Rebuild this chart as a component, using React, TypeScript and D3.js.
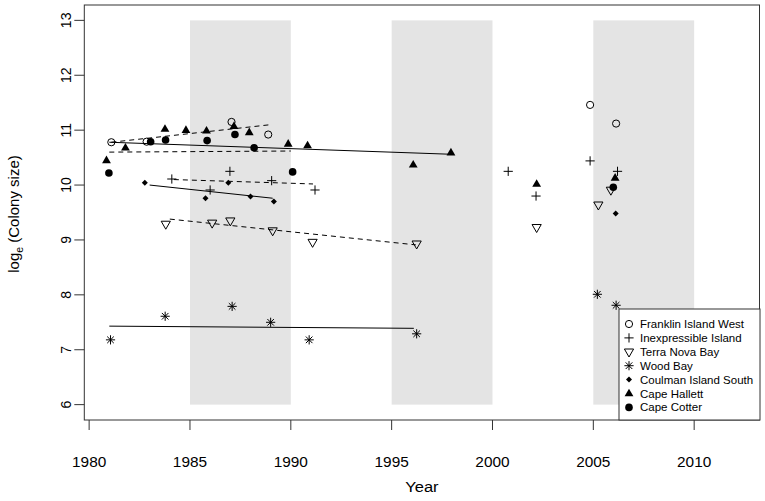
import React from "react";
import * as d3 from "d3";

// ---------- data ----------
const seriesNames = [
  "Franklin Island West",
  "Inexpressible Island",
  "Terra Nova Bay",
  "Wood Bay",
  "Coulman Island South",
  "Cape Hallett",
  "Cape Cotter",
];
const seriesSymbols = ["circleOpen", "plus", "triDown", "asterisk", "diamond", "triUp", "circle"];

const franklinYears = [1981.1, 1982.85, 1987.06, 1988.88, 2004.84, 2006.13];
const franklinVals = [10.78, 10.79, 11.15, 10.92, 11.46, 11.12];

const inexYears = [1984.1, 1986.0, 1986.98, 1989.05, 1991.2, 2000.78, 2002.16, 2004.84, 2006.2];
const inexVals = [10.11, 9.91, 10.25, 10.08, 9.91, 10.25, 9.8, 10.44, 10.25];

const terraYears = [1983.8, 1986.1, 1987.0, 1989.1, 1991.08, 1996.24, 2002.19, 2005.25, 2005.87];
const terraVals = [9.29, 9.31, 9.35, 9.17, 8.96, 8.93, 9.23, 9.64, 9.91];

const woodYears = [1981.06, 1983.77, 1987.09, 1989.0, 1990.91, 1996.24, 2005.2, 2006.13];
const woodVals = [7.18, 7.61, 7.79, 7.5, 7.18, 7.29, 8.01, 7.81];

const coulmanYears = [1982.76, 1985.77, 1986.9, 1988.0, 1989.16, 2006.11];
const coulmanVals = [10.04, 9.76, 10.04, 9.79, 9.7, 9.48];

const hallettYears = [1980.86, 1981.8, 1983.76, 1984.8, 1985.82, 1987.18, 1987.94, 1989.87, 1990.83, 1996.07, 1997.94, 2002.19, 2006.08];
const hallettVals = [10.45, 10.68, 11.02, 11.0, 10.99, 11.07, 10.96, 10.75, 10.72, 10.37, 10.59, 10.02, 10.13];

const cotterYears = [1980.98, 1983.05, 1983.79, 1985.85, 1987.23, 1988.18, 1990.09, 2005.99];
const cotterVals = [10.22, 10.79, 10.82, 10.81, 10.92, 10.68, 10.24, 9.96];

// trend lines (one per series, same order)
const trendX0 = [1981.1, 1984.2, 1984.0, 1981.0, 1983.0, 1981.0, 1981.0];
const trendY0 = [10.78, 10.1, 9.38, 7.43, 10.0, 10.78, 10.6];
const trendX1 = [1989.0, 1991.1, 1996.2, 1996.1, 1989.1, 1998.0, 1990.0];
const trendY1 = [11.1, 10.02, 8.91, 7.39, 9.76, 10.56, 10.62];
const trendDashed = [true, true, true, false, false, false, true];

// shaded periods
const bandStart = [1985, 1995, 2005];
const bandEnd = [1990, 2000, 2010];

const xTicks = [1980, 1985, 1990, 1995, 2000, 2005, 2010];
const yTicks = [6, 7, 8, 9, 10, 11, 12, 13];

const allYears = [franklinYears, inexYears, terraYears, woodYears, coulmanYears, hallettYears, cotterYears];
const allVals = [franklinVals, inexVals, terraVals, woodVals, coulmanVals, hallettVals, cotterVals];

// ---------- layout ----------
const W = 765;
const H = 501;
const FONT = "'Liberation Sans', Arial, Helvetica, sans-serif";

const x = d3.scaleLinear().domain([1979.76, 2013.24]).range([84.3, 759.5]);
const y = d3.scaleLinear().domain([5.72, 13.28]).range([420, 5]);

function Symbol({ type, cx, cy }: { type: string; cx: number; cy: number }) {
  const s = "#000";
  switch (type) {
    case "circleOpen":
      return <circle cx={cx} cy={cy} r={3.6} fill="none" stroke={s} strokeWidth={1} />;
    case "circle":
      return <circle cx={cx} cy={cy} r={3.8} fill={s} />;
    case "plus": {
      const h = 4.6;
      return (
        <path d={`M${cx - h},${cy}H${cx + h}M${cx},${cy - h}V${cy + h}`} stroke={s} strokeWidth={1} fill="none" />
      );
    }
    case "asterisk": {
      const h = 4.6;
      const d2 = 3.3;
      return (
        <path
          d={`M${cx - h},${cy}H${cx + h}M${cx},${cy - h}V${cy + h}M${cx - d2},${cy - d2}L${cx + d2},${cy + d2}M${cx - d2},${cy + d2}L${cx + d2},${cy - d2}`}
          stroke={s}
          strokeWidth={1}
          fill="none"
        />
      );
    }
    case "triDown": {
      const w = 4.6;
      return (
        <path
          d={`M${cx - w},${cy - 2.8}L${cx + w},${cy - 2.8}L${cx},${cy + 5.2}Z`}
          stroke={s}
          strokeWidth={1}
          fill="none"
        />
      );
    }
    case "triUp": {
      const w = 4.4;
      return <path d={`M${cx - w},${cy + 2.8}L${cx + w},${cy + 2.8}L${cx},${cy - 4.8}Z`} fill={s} />;
    }
    case "diamond": {
      const h = 3;
      return <path d={`M${cx},${cy - h}L${cx + h},${cy}L${cx},${cy + h}L${cx - h},${cy}Z`} fill={s} />;
    }
    default:
      return null;
  }
}

function HText({
  x0,
  y0,
  size,
  anchor,
  sx,
  children,
}: {
  x0: number;
  y0: number;
  size: number;
  anchor?: string;
  sx: number;
  children: React.ReactNode;
}) {
  return (
    <g transform={`translate(${x0},${y0}) scale(${sx},1)`}>
      <text x={0} y={0} fontSize={size} textAnchor={anchor || "start"} fill="#000">
        {children}
      </text>
    </g>
  );
}

export default function App() {
  const legendX = 619;
  const legendY = 309;
  const legendW = 141;
  const legendH = 111;
  const rowH = 13.9;
  return (
    <svg width={W} height={H} style={{ position: "absolute", left: 0, top: 0, background: "#fff" }} fontFamily={FONT}>
      <rect x={0} y={0} width={W} height={H} fill="#fff" />
      {/* shaded bands */}
      {bandStart.map((b, i) => (
        <rect
          key={"band" + i}
          x={x(b)}
          y={y(13)}
          width={x(bandEnd[i]) - x(b)}
          height={y(6) - y(13)}
          fill="#e4e4e4"
        />
      ))}
      {/* trend lines */}
      {trendX0.map((t, i) => (
        <line
          key={"tr" + i}
          x1={x(t)}
          y1={y(trendY0[i])}
          x2={x(trendX1[i])}
          y2={y(trendY1[i])}
          stroke="#000"
          strokeWidth={1}
          strokeDasharray={trendDashed[i] ? "5,4" : undefined}
        />
      ))}
      {/* points */}
      {allYears.map((yrs, si) =>
        yrs.map((yr, j) => (
          <Symbol key={`p${si}-${j}`} type={seriesSymbols[si]} cx={x(yr)} cy={y(allVals[si][j])} />
        ))
      )}
      {/* box */}
      <rect x={84.3} y={5} width={759.5 - 84.3} height={415} fill="none" stroke="#333" strokeWidth={1} />
      {/* x axis ticks */}
      {xTicks.map((t) => (
        <g key={"xt" + t}>
          <line x1={x(t)} x2={x(t)} y1={420} y2={430} stroke="#333" strokeWidth={1} />
          <HText x0={x(t)} y0={467} size={14} anchor="middle" sx={1.1}>
            {t}
          </HText>
        </g>
      ))}
      {/* y axis ticks */}
      {yTicks.map((t) => (
        <g key={"yt" + t}>
          <line x1={74.3} x2={84.3} y1={y(t)} y2={y(t)} stroke="#333" strokeWidth={1} />
          <text
            transform={`translate(71,${y(t)}) rotate(-90)`}
            fontSize={14}
            textAnchor="middle"
            fill="#000"
          >
            {t}
          </text>
        </g>
      ))}
      {/* axis titles */}
      <HText x0={x(1996.5)} y0={492} size={15} anchor="middle" sx={1.1}>
        Year
      </HText>
      <text transform={`translate(19,${214}) rotate(-90)`} fontSize={15} textAnchor="middle" fill="#000">
        log<tspan fontSize={10.5} dy={4}>e</tspan>
        <tspan dy={-4}> (Colony size)</tspan>
      </text>
      {/* legend */}
      <rect x={legendX} y={legendY} width={legendW} height={legendH} fill="#fff" stroke="#333" strokeWidth={1} />
      {seriesNames.map((n, i) => (
        <g key={"lg" + i}>
          <Symbol type={seriesSymbols[i]} cx={legendX + 10} cy={legendY + 15 + i * rowH} />
          <HText x0={legendX + 21} y0={legendY + 19 + i * rowH} size={11.5} sx={1.0}>
            {n}
          </HText>
        </g>
      ))}
    </svg>
  );
}
